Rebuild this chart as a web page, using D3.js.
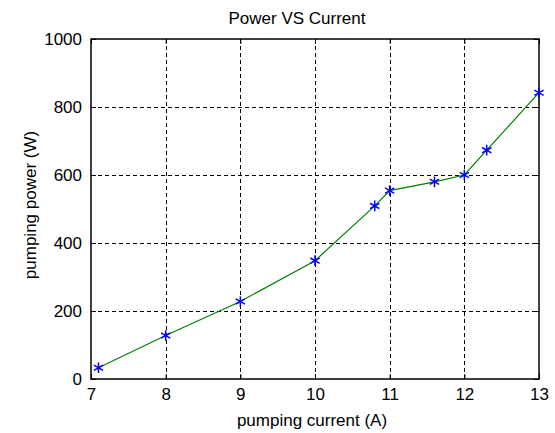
<!DOCTYPE html>
<html>
<head>
<meta charset="utf-8">
<script src="https://cdn.jsdelivr.net/npm/d3@7"></script>
<style>
  body { margin: 0; background: #fff; }
  svg text { font-family: "Liberation Sans", Arial, sans-serif; fill: #000; }
</style>
</head>
<body>
<svg id="chart" width="555" height="433"></svg>
<script>
// values
const current = [7.1, 8, 9, 10, 10.8, 11, 11.6, 12, 12.3, 13]
const power = [33, 128, 228, 348, 509, 554, 580, 600, 673, 842]
const xTicks = [7, 8, 9, 10, 11, 12, 13]
const yTicks = [0, 200, 400, 600, 800, 1000]

const margin = {left: 91, top: 39, right: 16, bottom: 54}
const width = 555 - margin.left - margin.right
const height = 433 - margin.top - margin.bottom

const svg = d3.select('#chart')
const g = svg.append('g')
    .attr('transform', `translate(${margin.left}, ${margin.top})`)

const x = d3.scaleLinear().domain([7, 13]).range([0, width])
const y = d3.scaleLinear().domain([0, 1000]).range([height, 0])

// dashed grid
g.selectAll('.vgrid').data(xTicks.slice(1, -1)).enter().append('line')
    .attr('x1', d => Math.round(x(d)) + 0.5).attr('x2', d => Math.round(x(d)) + 0.5)
    .attr('y1', 0).attr('y2', height)
    .attr('stroke', '#000').attr('stroke-dasharray', '4,3')
g.selectAll('.hgrid').data(yTicks.slice(1, -1)).enter().append('line')
    .attr('y1', d => Math.round(y(d)) + 0.5).attr('y2', d => Math.round(y(d)) + 0.5)
    .attr('x1', 0).attr('x2', width)
    .attr('stroke', '#000').attr('stroke-dasharray', '4,3')

// axes, ticks pointing inward
const fmt = d3.format('d')
const xAxis = g.append('g').attr('transform', `translate(0, ${height})`)
    .call(d3.axisBottom(x).tickValues(xTicks).tickFormat(fmt).tickSizeInner(-5).tickSizeOuter(0).tickPadding(9))
const xTop = g.append('g')
    .call(d3.axisTop(x).tickValues(xTicks).tickSizeInner(-5).tickSizeOuter(0).tickFormat(''))
const yAxis = g.append('g')
    .call(d3.axisLeft(y).tickValues(yTicks).tickFormat(fmt).tickSizeInner(-5).tickSizeOuter(0).tickPadding(9))
const yRight = g.append('g').attr('transform', `translate(${width}, 0)`)
    .call(d3.axisRight(y).tickValues(yTicks).tickSizeInner(-5).tickSizeOuter(0).tickFormat(''))

;[xAxis, xTop, yAxis, yRight].forEach(a => {
    a.select('.domain').remove()
    a.selectAll('line').attr('stroke', '#000')
    a.selectAll('text').style('font-size', '17px').attr('fill', '#000')
})

g.append('rect')
    .attr('x', 0).attr('y', 0).attr('width', width).attr('height', height)
    .attr('fill', 'none').attr('stroke', '#000').attr('stroke-width', 1.5)

// data line
const pts = current.map((c, i) => [c, power[i]])
g.append('path')
    .datum(pts)
    .attr('fill', 'none')
    .attr('stroke', '#008000')
    .attr('stroke-width', 1.2)
    .attr('d', d3.line().x(d => x(d[0])).y(d => y(d[1])))

// star markers
const star = d3.symbol().type(d3.symbolAsterisk).size(80)
g.selectAll('.mark').data(pts).enter().append('path')
    .attr('transform', d => `translate(${x(d[0])}, ${y(d[1])})`)
    .attr('d', star)
    .attr('fill', 'none')
    .attr('stroke', '#0000ff')
    .attr('stroke-width', 1.5)

// texts
svg.append('text')
    .attr('x', 297).attr('y', 24)
    .attr('text-anchor', 'middle')
    .style('font-size', '17px')
    .text('Power VS Current')
svg.append('text')
    .attr('x', 312).attr('y', 426)
    .attr('text-anchor', 'middle')
    .style('font-size', '17px')
    .text('pumping current (A)')
svg.append('text')
    .attr('transform', 'translate(36, 205) rotate(-90)')
    .attr('text-anchor', 'middle')
    .style('font-size', '17px')
    .text('pumping power (W)')
</script>
</body>
</html>
